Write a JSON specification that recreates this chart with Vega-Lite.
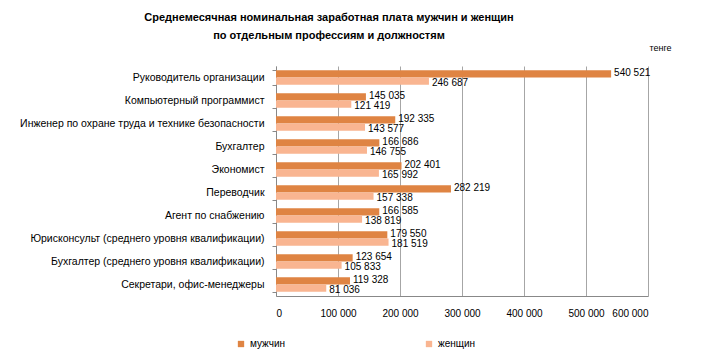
{
  "$schema": "https://vega.github.io/schema/vega-lite/v6.json",
  "width": 372,
  "height": 230,
  "autosize": "none",
  "padding": {"left": 276, "top": 66, "right": 57, "bottom": 61},
  "background": "white",
  "config": {
    "font": "Liberation Sans",
    "view": {"stroke": null},
    "locale": {"number": {"decimal": ",", "thousands": " ", "grouping": [3], "currency": ["", ""]}}
  },
  "title": {
    "text": ["Среднемесячная номинальная заработная плата мужчин и женщин", "по отдельным профессиям и должностям"],
    "anchor": "middle",
    "dx": -133,
    "offset": 2,
    "fontSize": 11,
    "fontWeight": "bold",
    "lineHeight": 18,
    "color": "#000000",
    "font": "Liberation Sans"
  },
  "data": {
    "values": [
      {"cat": "Руководитель организации", "sex": "мужчин", "value": 540521},
      {"cat": "Руководитель организации", "sex": "женщин", "value": 246687},
      {"cat": "Компьютерный программист", "sex": "мужчин", "value": 145035},
      {"cat": "Компьютерный программист", "sex": "женщин", "value": 121419},
      {"cat": "Инженер по охране труда и технике безопасности ", "sex": "мужчин", "value": 192335},
      {"cat": "Инженер по охране труда и технике безопасности ", "sex": "женщин", "value": 143577},
      {"cat": "Бухгалтер", "sex": "мужчин", "value": 166686},
      {"cat": "Бухгалтер", "sex": "женщин", "value": 146755},
      {"cat": "Экономист", "sex": "мужчин", "value": 202401},
      {"cat": "Экономист", "sex": "женщин", "value": 165992},
      {"cat": "Переводчик", "sex": "мужчин", "value": 282219},
      {"cat": "Переводчик", "sex": "женщин", "value": 157338},
      {"cat": "Агент по снабжению", "sex": "мужчин", "value": 166585},
      {"cat": "Агент по снабжению", "sex": "женщин", "value": 138819},
      {"cat": "Юрисконсульт (среднего уровня квалификации)", "sex": "мужчин", "value": 179550},
      {"cat": "Юрисконсульт (среднего уровня квалификации)", "sex": "женщин", "value": 181519},
      {"cat": "Бухгалтер (среднего уровня  квалификации)", "sex": "мужчин", "value": 123654},
      {"cat": "Бухгалтер (среднего уровня  квалификации)", "sex": "женщин", "value": 105833},
      {"cat": "Секретари, офис-менеджеры", "sex": "мужчин", "value": 119328},
      {"cat": "Секретари, офис-менеджеры", "sex": "женщин", "value": 81036}
    ]
  },
  "resolve": {"axis": {"x": "independent"}},
  "encoding": {
    "y": {
      "field": "cat",
      "type": "nominal",
      "sort": null,
      "scale": {"paddingInner": 0.38, "paddingOuter": 0.19},
      "axis": {
        "title": null,
        "tickBand": "extent",
        "domainColor": "#888888",
        "tickColor": "#888888",
        "tickSize": 4,
        "labelFontSize": 10.5,
        "labelColor": "#000000",
        "labelPadding": 8,
        "labelLimit": 300
      }
    },
    "yOffset": {"field": "sex", "type": "nominal", "sort": ["мужчин", "женщин"]}
  },
  "layer": [
    {
      "layer": [
        {
          "mark": {"type": "bar"},
          "encoding": {
            "color": {
              "field": "sex",
              "type": "nominal",
              "sort": ["мужчин", "женщин"],
              "scale": {"domain": ["мужчин", "женщин"], "range": ["#df8443", "#f9b591"]},
              "legend": {
                "title": null,
                "orient": "none",
                "direction": "horizontal",
                "legendX": -40,
                "legendY": 273,
                "columnPadding": 139,
                "symbolType": "square",
                "symbolSize": 40,
                "symbolStrokeWidth": 0,
                "labelFontSize": 10,
                "labelColor": "#000000"
              }
            }
          }
        },
        {
          "transform": [{"filter": "datum.sex === 'мужчин'"}],
          "mark": {"type": "text", "align": "left", "dx": 3, "dy": -1, "fontSize": 10, "color": "#000000"},
          "encoding": {
            "text": {"field": "value", "type": "quantitative", "format": ",d"}
          }
        },
        {
          "transform": [{"filter": "datum.sex === 'женщин'"}],
          "mark": {"type": "text", "align": "left", "dx": 3, "dy": 2, "fontSize": 10, "color": "#000000"},
          "encoding": {
            "text": {"field": "value", "type": "quantitative", "format": ",d"}
          }
        }
      ],
      "encoding": {
        "x": {
          "field": "value",
          "type": "quantitative",
          "scale": {"domain": [0, 600000]},
          "axis": {
            "title": null,
            "tickCount": 6,
            "format": ",d",
            "grid": true,
            "gridColor": "#a6a6a6",
            "domainColor": "#888888",
            "ticks": false,
            "labelFontSize": 10,
            "labelColor": "#000000",
            "labelPadding": 12
          }
        }
      }
    },
    {
      "mark": {"type": "rule", "opacity": 0},
      "encoding": {
        "x": {
          "datum": 0,
          "type": "quantitative",
          "scale": {"domain": [0, 600000]},
          "axis": {
            "orient": "top",
            "title": "тенге",
            "titleAnchor": "end",
            "titleAlign": "right",
            "titleX": 395,
            "titleFontWeight": "normal",
            "titleFontSize": 9,
            "titleColor": "#000000",
            "titlePadding": 14,
            "labels": false,
            "ticks": false,
            "domain": false,
            "grid": false
          }
        }
      }
    }
  ]
}
